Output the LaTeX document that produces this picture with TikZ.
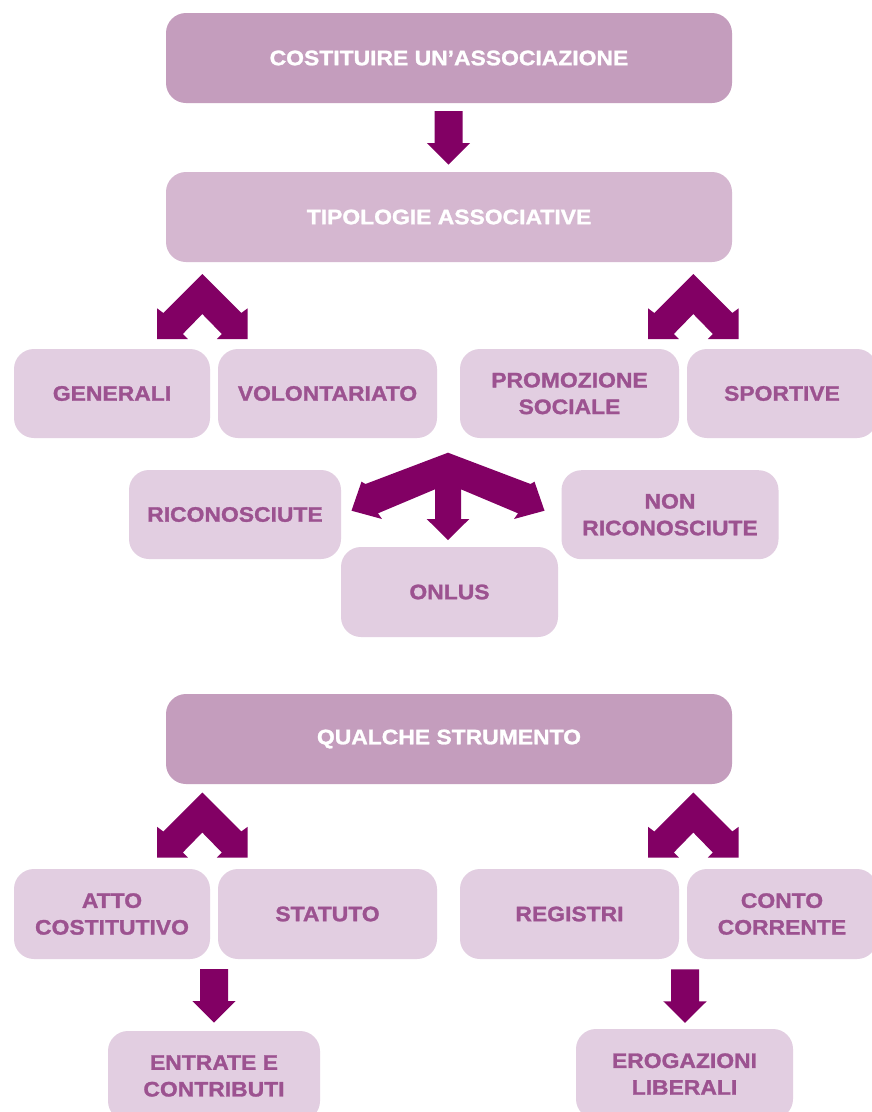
\documentclass[tikz,border=0pt]{standalone}
\usepackage{fontspec}
\setmainfont{Liberation Sans}[FakeStretch=1.09, BoldFeatures={FakeBold=1.3}]
\definecolor{darkbox}{HTML}{C49DBD}
\definecolor{midbox}{HTML}{D5B7D0}
\definecolor{lightbox}{HTML}{E2CEE1}
\definecolor{boxtxt}{HTML}{9C5290}
\definecolor{arrcol}{HTML}{820064}
\begin{document}
\begin{tikzpicture}[x=1pt,y=-1pt,
  box/.style={rounded corners=20pt, inner sep=0pt, align=center,
    font=\fontsize{21}{26.7}\selectfont\bfseries, text=boxtxt, fill=lightbox,
    minimum height=89pt},
  headbox/.style={box, text=white, minimum width=566pt, minimum height=90pt},
  chev/.pic={\fill[arrcol] (0,0) -- (39,39) -- (45.3,34.3) -- (45.3,65) -- (14.5,65) -- (19.5,60) -- (0,40) -- (-19.5,60) -- (-14.5,65) -- (-45.3,65) -- (-45.3,34.3) -- (-39,39) -- cycle;},
  darr/.pic={\fill[arrcol] (-14,0) -- (14,0) -- (14,32) -- (21.7,32) -- (0,53.5) -- (-21.7,32) -- (-14,32) -- cycle;}
]
\useasboundingbox (0,0) rectangle (872,1112);
\clip (0,0) rectangle (872,1112);
\fill[white] (0,0) rectangle (872,1112);

% headers
\node[headbox, fill=darkbox] (cost) at (449,58) {COSTITUIRE UN’ASSOCIAZIONE};
\node[headbox, fill=midbox] (tipo) at (449,217) {TIPOLOGIE ASSOCIATIVE};
\node[headbox, fill=darkbox] (qual) at (449,739) {QUALCHE STRUMENTO};

% first row
\node[box, minimum width=196pt] (gen) at (112,393.5) {GENERALI};
\node[box, minimum width=219pt] (vol) at (327.5,393.5) {VOLONTARIATO};
\node[box, minimum width=219pt] (prom) at (569.5,393.5) {PROMOZIONE\\SOCIALE};
\node[box, minimum width=190pt] (sport) at (782,393.5) {SPORTIVE};

% second group
\node[box, minimum width=212pt] (ric) at (235,514.5) {RICONOSCIUTE};
\node[box, minimum width=217pt, minimum height=90pt] (onlus) at (449.5,592) {ONLUS};
\node[box, minimum width=217pt] (nonric) at (670,514.7) {NON\\RICONOSCIUTE};

% tools row
\node[box, minimum width=196pt, minimum height=90pt] (atto) at (112,914) {ATTO\\COSTITUTIVO};
\node[box, minimum width=219pt, minimum height=90pt] (stat) at (327.5,914) {STATUTO};
\node[box, minimum width=219pt, minimum height=90pt] (reg) at (569.5,914) {REGISTRI};
\node[box, minimum width=190pt, minimum height=90pt] (conto) at (782,914) {CONTO\\CORRENTE};

% bottom
\node[box, minimum width=212pt, minimum height=90pt] (entr) at (214,1076) {ENTRATE E\\CONTRIBUTI};
\node[box, minimum width=217pt, minimum height=90pt] (erog) at (684.5,1074) {EROGAZIONI\\LIBERALI};

% arrows
\pic at (448.5,111) {darr};
\pic at (202.3,274) {chev};
\pic at (693.3,274) {chev};
\pic at (202.3,792.5) {chev};
\pic at (693.3,792.5) {chev};
\pic at (214,969) {darr};
\pic at (685,969.3) {darr};
\fill[arrcol] (448,452.7) -- (530.5,484) -- (534.5,481.7) -- (544.5,510.7) -- (514,519) -- (518,513.3) -- (461,489.3) -- (461,519) -- (469.3,519) -- (448,540) -- (426.7,519) -- (435,519) -- (435,489.3) -- (378,513.3) -- (382,519) -- (351.5,510.7) -- (361.5,481.7) -- (365.5,484) -- cycle;
\end{tikzpicture}
\end{document}
